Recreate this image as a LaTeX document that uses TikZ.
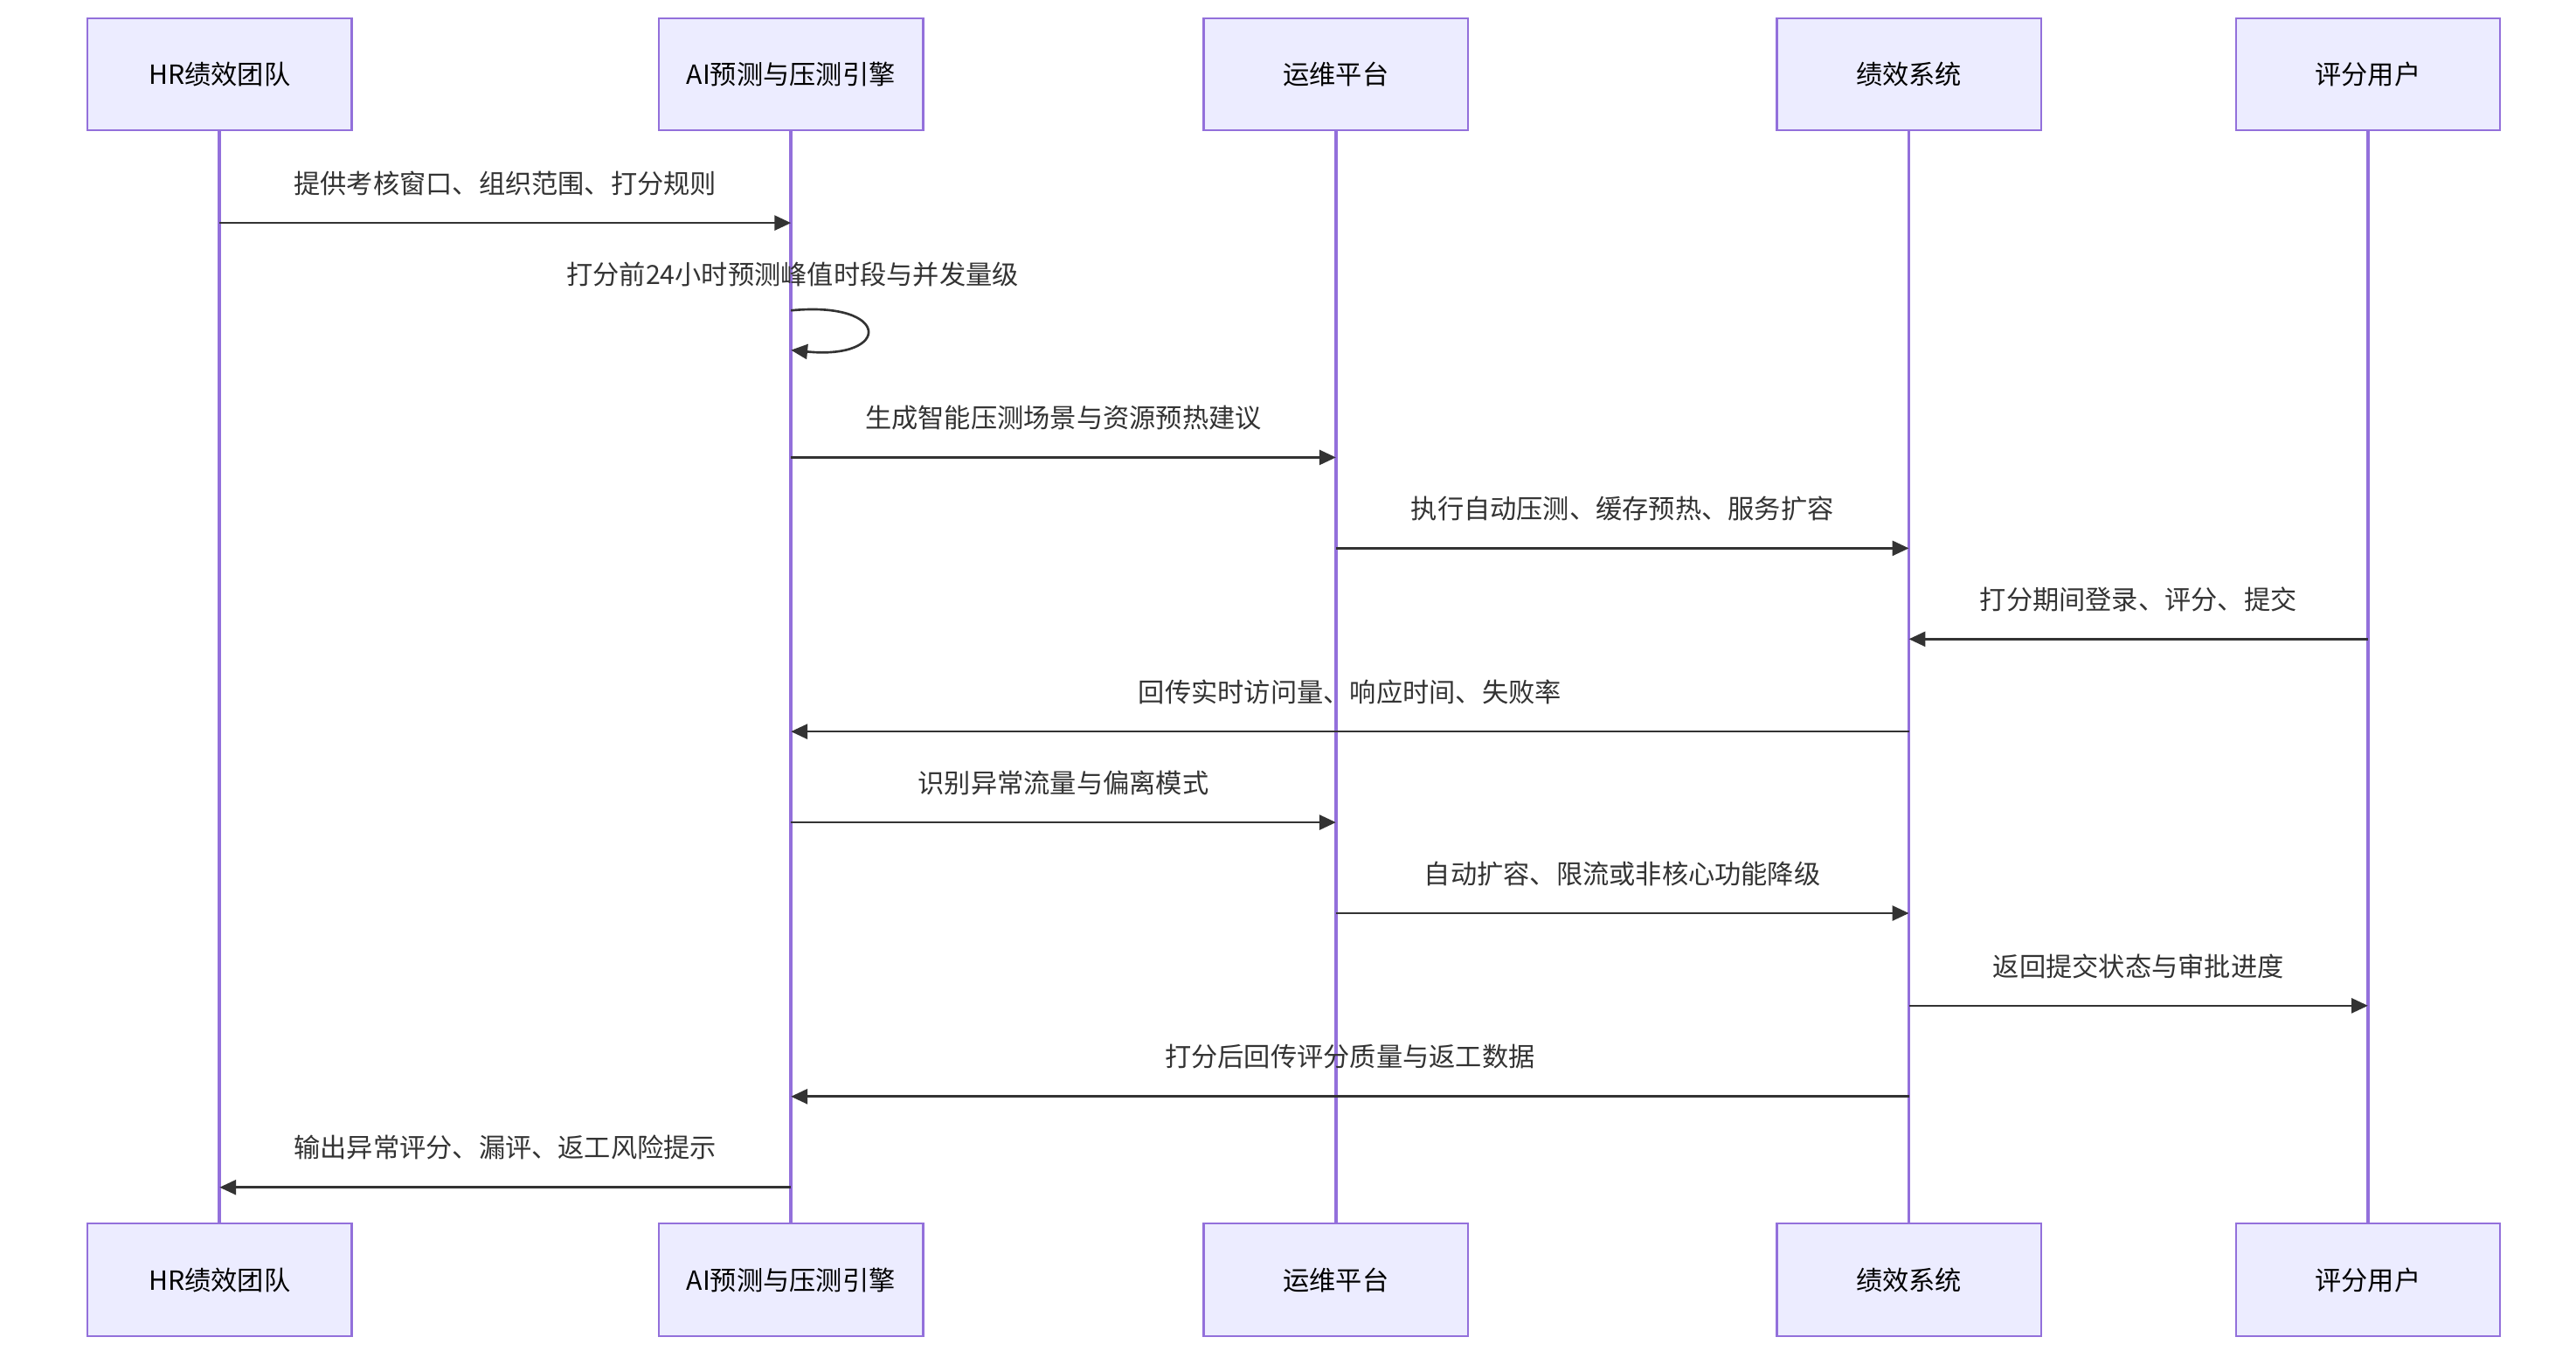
\documentclass[tikz,border=0pt]{standalone}
\usepackage{fontspec}
\setmainfont{Noto Sans CJK SC}
\usetikzlibrary{arrows.meta}
\definecolor{boxfill}{HTML}{ECECFF}
\definecolor{boxline}{HTML}{9370DB}
\definecolor{msg}{HTML}{333333}
\begin{document}
\begin{tikzpicture}[x=0.5pt,y=-0.5pt,
  actor/.style={draw=boxline,fill=boxfill,line width=0.6pt,minimum width=80pt,minimum height=34pt,font=\fontsize{8}{9}\selectfont,inner sep=0pt},
  life/.style={draw=boxline,line width=1pt},
  arr/.style={draw=msg,line width=0.7pt,-{Triangle[length=5pt,width=4.5pt]}},
  lbl/.style={font=\fontsize{8}{9}\selectfont,text=msg}]
\fill[white] (0,0) rectangle (1560,818);
\useasboundingbox (0,0) rectangle (1560,818);
\foreach \n/\x/\t in {A/133/HR绩效团队,B/479/AI预测与压测引擎,C/809/运维平台,D/1156/绩效系统,E/1434/评分用户}{
  \draw[life] (\x,79) -- (\x,741);
  \node[actor] (\n t) at (\x,45) {\t};
  \node[actor] (\n b) at (\x,775) {\t};
}
\newcommand{\msgline}[5]{% from x, to x, y, label, name
  \coordinate (#5s) at (#1,#3); \coordinate (#5e) at (#2,#3);
  \draw[arr] (#5s) -- (#5e);
  \node[lbl] at ({(#1+#2)/2},#3-24) {#4};}
\msgline{133}{479}{135}{提供考核窗口、组织范围、打分规则}{m1}
\coordinate (ls) at (479,188); \coordinate (le) at (479,212);
\draw[arr] (ls) .. controls (540,182) and (540,218) .. (le);
\node[lbl] at (480,166) {打分前24小时预测峰值时段与并发量级};
\msgline{479}{809}{277}{生成智能压测场景与资源预热建议}{m3}
\msgline{809}{1156}{332}{执行自动压测、缓存预热、服务扩容}{m4}
\msgline{1434}{1156}{387}{打分期间登录、评分、提交}{m5}
\msgline{1156}{479}{443}{回传实时访问量、响应时间、失败率}{m6}
\msgline{479}{809}{498}{识别异常流量与偏离模式}{m7}
\msgline{809}{1156}{553}{自动扩容、限流或非核心功能降级}{m8}
\msgline{1156}{1434}{609}{返回提交状态与审批进度}{m9}
\msgline{1156}{479}{664}{打分后回传评分质量与返工数据}{m10}
\msgline{479}{133}{719}{输出异常评分、漏评、返工风险提示}{m11}
\end{tikzpicture}
\end{document}
